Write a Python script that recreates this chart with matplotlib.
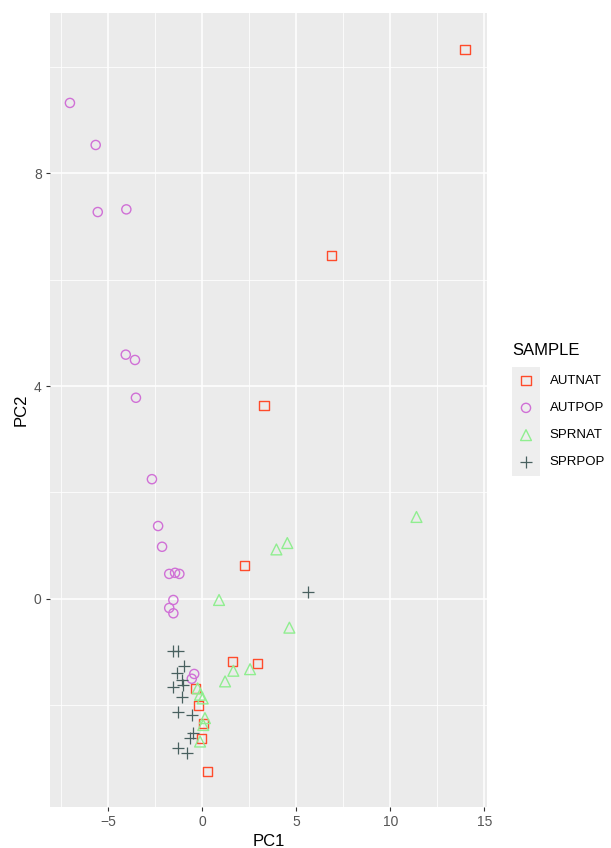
import matplotlib
matplotlib.use("Agg")
import matplotlib.pyplot as plt
from matplotlib.patches import Rectangle

plt.rcParams['font.family'] = ['Liberation Sans', 'DejaVu Sans']

# PCA scores
autnat_x = [13.97, 6.89, 3.28, 2.22, 1.58, 2.96, -0.38, -0.18, 0.05, -0.03, 0.29]
autnat_y = [10.32, 6.45, 3.63, 0.62, -1.17, -1.22, -1.68, -2.01, -2.35, -2.62, -3.25]

autpop_x = [-7.04, -5.67, -5.56, -4.04, -4.07, -3.58, -3.53, -2.68, -2.35, -2.14,
            -1.76, -1.45, -1.22, -1.54, -1.76, -1.54, -0.43, -0.56]
autpop_y = [9.32, 8.53, 7.27, 7.32, 4.59, 4.49, 3.78, 2.25, 1.37, 0.98,
            0.47, 0.49, 0.47, -0.02, -0.17, -0.27, -1.41, -1.50]

sprnat_x = [11.39, 3.94, 4.52, 0.89, 4.63, 1.65, 2.54, 1.21, -0.25, -0.12, 0.02, 0.14, 0.05, -0.12]
sprnat_y = [1.54, 0.93, 1.05, -0.02, -0.54, -1.35, -1.32, -1.55, -1.68, -1.80, -1.87, -2.24, -2.37, -2.68]

sprpop_x = [5.61, -1.58, -1.28, -0.97, -1.37, -1.10, -1.54, -1.01, -1.10, -1.28,
            -0.53, -0.48, -0.65, -1.28, -0.83]
sprpop_y = [0.13, -0.98, -0.98, -1.26, -1.40, -1.52, -1.65, -1.62, -1.84, -2.12,
            -2.18, -2.52, -2.62, -2.81, -2.90]

groups = ["AUTNAT", "AUTPOP", "SPRNAT", "SPRPOP"]
xs = [autnat_x, autpop_x, sprnat_x, sprpop_x]
ys = [autnat_y, autpop_y, sprnat_y, sprpop_y]
colors = ["#FF4B2B", "#D070D6", "#90EE90", "#48605F"]
markers = ["s", "o", "^", "+"]
msizes = [6.5, 6.6, 7.8, 8.8]

W, H = 611, 848
fig = plt.figure(figsize=(W / 100, H / 100), dpi=100)
fig.patch.set_facecolor("white")

# panel
ax = fig.add_axes([50 / W, 1 - 807 / H, (487 - 50) / W, (807 - 13) / H])
ax.set_facecolor("#EBEBEB")
for s in ax.spines.values():
    s.set_visible(False)

for g, x, y, c, m, ms in zip(groups, xs, ys, colors, markers, msizes):
    if m == "+":
        ax.scatter(x, y, s=ms ** 2, marker=m, color=c, linewidths=0.9, zorder=3)
    else:
        ax.scatter(x, y, s=ms ** 2, marker=m, facecolors="none", edgecolors=c,
                   linewidths=1.0, zorder=3)

ax.set_xlim(-8.1, 15.14)
ax.set_ylim(-3.91, 11.01)
ax.set_xticks([-5, 0, 5, 10, 15])
ax.set_yticks([0, 4, 8])
ax.set_xticks([-7.5, -2.5, 2.5, 7.5, 12.5], minor=True)
ax.set_yticks([-2, 2, 6, 10], minor=True)
ax.grid(which="major", color="white", linewidth=1.1)
ax.grid(which="minor", color="white", linewidth=0.55)
ax.set_axisbelow(True)
ax.tick_params(which="major", length=3, width=0.8, color="#333333",
               labelsize=10, labelcolor="#555555", pad=3)
ax.tick_params(which="minor", length=0)
ax.set_xlabel("PC1", fontsize=12, labelpad=3)
ax.set_ylabel("PC2", fontsize=12, labelpad=4)

# legend, drawn by hand to get the ggplot-style grey key boxes
fig.text(512 / W, 1 - 351 / H, "SAMPLE", fontsize=12, va="center", ha="left")
lax = fig.add_axes([512 / W, 1 - 476 / H, 28 / W, (476 - 367) / H])
lax.set_xlim(0, 1)
lax.set_ylim(3.5, -0.5)
lax.axis("off")
for i, (g, c, m, ms) in enumerate(zip(groups, colors, markers, msizes)):
    lax.add_patch(Rectangle((0, i - 0.5), 1, 1, facecolor="#EEEEEE", edgecolor="none"))
    if m == "+":
        lax.scatter([0.5], [i], s=ms ** 2, marker=m, color=c, linewidths=0.9)
    else:
        lax.scatter([0.5], [i], s=ms ** 2, marker=m, facecolors="none",
                    edgecolors=c, linewidths=1.0)
    lax.text(1.35, i, g, fontsize=9.5, va="center", ha="left", clip_on=False)

fig.savefig("out.png", dpi=100)
